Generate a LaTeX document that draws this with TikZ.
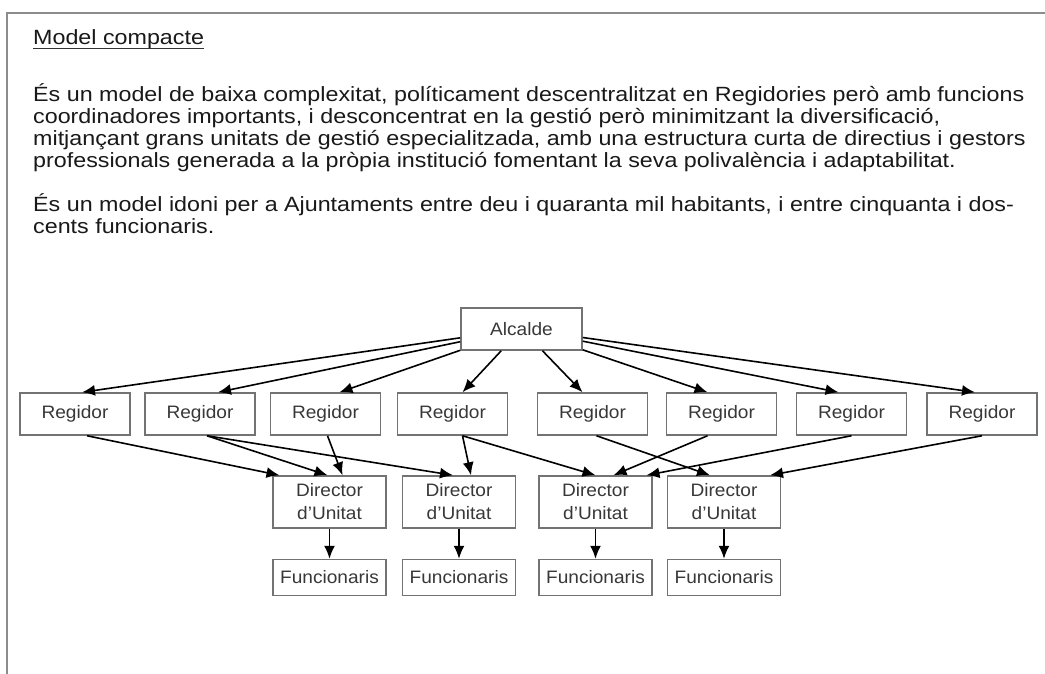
\documentclass[tikz,border=0pt]{standalone}
\usepackage{fontspec}
\setmainfont{Liberation Sans}[FakeStretch=1.06]
\newfontfamily\textfamily{Liberation Sans}[FakeStretch=1.13]
\usetikzlibrary{arrows.meta, positioning}

\begin{document}
\begin{tikzpicture}[x=1pt, y=-1pt]
        \tikzstyle{marc} = [draw=black!45, line width=2.2pt]
        \tikzstyle{linia} = [anchor=base west, inner sep=0pt, text=black!90, font=\textfamily\fontsize{20.6}{22}\selectfont]
        \tikzstyle{caixa} = [rectangle, draw=black!55, line width=1.5pt, text=black!78, inner sep=0pt, align=center, font=\fontsize{18}{23}\selectfont]
        \tikzstyle{alcalde} = [caixa, minimum width=121pt, minimum height=42pt]
        \tikzstyle{regidor} = [caixa, minimum width=110pt, minimum height=42pt]
        \tikzstyle{director} = [caixa, minimum width=113pt, minimum height=52pt]
        \tikzstyle{funcionari} = [caixa, minimum width=113pt, minimum height=36pt]
        \tikzstyle{arrow} = [line width=1.6pt, -{Latex[length=13pt, width=11pt]}]

        \useasboundingbox (0,0) rectangle (1045,673);
        \fill [white] (0,0) rectangle (1045,673);
        \draw [marc] (7,680) -- (7,13) -- (1050,13);

        % text
        \node (titol) [linia] at (33,44.5) {Model compacte};
        \draw [line width=1pt, black!80] ([yshift=-3.5pt]titol.base west) -- ([yshift=-3.5pt]titol.base east);

        \node (p1a) [linia] at (33,101.5) {És un model de baixa complexitat, políticament descentralitzat en Regidories però amb funcions};
        \node (p1b) [linia] at ([yshift=-22pt]p1a.base west) {coordinadores importants, i desconcentrat en la gestió però minimitzant la diversificació,};
        \node (p1c) [linia] at ([yshift=-22pt]p1b.base west) {mitjançant grans unitats de gestió especialitzada, amb una estructura curta de directius i gestors};
        \node (p1d) [linia] at ([yshift=-22pt]p1c.base west) {professionals generada a la pròpia institució fomentant la seva polivalència i adaptabilitat.};
        \node (p2a) [linia] at (33,211) {És un model idoni per a Ajuntaments entre deu i quaranta mil habitants, i entre cinquanta i dos-};
        \node (p2b) [linia] at ([yshift=-22pt]p2a.base west) {cents funcionaris.};

        % organigrama
        \node (alc) [alcalde] at (521.5,329) {Alcalde};

        \node (reg1) [regidor] at (75,414) {Regidor};
        \node (reg2) [regidor] at (200,414) {Regidor};
        \node (reg3) [regidor] at (325.5,414) {Regidor};
        \node (reg4) [regidor] at (452.5,414) {Regidor};
        \node (reg5) [regidor] at (592.5,414) {Regidor};
        \node (reg6) [regidor] at (721.5,414) {Regidor};
        \node (reg7) [regidor] at (851.5,414) {Regidor};
        \node (reg8) [regidor] at (982,414) {Regidor};

        \node (dir1) [director] at (329.5,502) {Director\\d'Unitat};
        \node (dir2) [director] at (459,502) {Director\\d'Unitat};
        \node (dir3) [director] at (595.5,502) {Director\\d'Unitat};
        \node (dir4) [director] at (724,502) {Director\\d'Unitat};

        \node (fun1) [funcionari, below=30pt of dir1] {Funcionaris};
        \node (fun2) [funcionari, below=30pt of dir2] {Funcionaris};
        \node (fun3) [funcionari, below=30pt of dir3] {Funcionaris};
        \node (fun4) [funcionari, below=30pt of dir4] {Funcionaris};

        \draw [arrow] (alc) -- ([xshift=7pt]reg1.north);
        \draw [arrow] (alc) -- ([xshift=18pt]reg2.north);
        \draw [arrow] (alc) -- ([xshift=14pt]reg3.north);
        \draw [arrow] (alc) -- ([xshift=10pt]reg4.north);
        \draw [arrow] (alc) -- ([xshift=-10pt]reg5.north);
        \draw [arrow] (alc) -- ([xshift=-14pt]reg6.north);
        \draw [arrow] (alc) -- ([xshift=-13pt]reg7.north);
        \draw [arrow] (alc) -- ([xshift=-7pt]reg8.north);

        \draw [arrow] ([xshift=12pt]reg1.south) -- ([xshift=-50pt]dir1.north);
        \draw [arrow] ([xshift=7pt]reg2.south) -- ([xshift=-2pt]dir1.north);
        \draw [arrow] ([xshift=7pt]reg2.south) -- ([xshift=-6pt]dir2.north);
        \draw [arrow] ([xshift=2pt]reg3.south) -- ([xshift=13pt]dir1.north);
        \draw [arrow] ([xshift=10pt]reg4.south) -- ([xshift=12pt]dir2.north);
        \draw [arrow] ([xshift=10pt]reg4.south) -- (dir3.north);
        \draw [arrow] ([xshift=4pt]reg5.south) -- ([xshift=-14pt]dir4.north);
        \draw [arrow] ([xshift=-14pt]reg6.south) -- ([xshift=18pt]dir3.north);
        \draw [arrow] (reg7.south) -- ([xshift=51pt]dir3.north);
        \draw [arrow] (reg8.south) -- ([xshift=46pt]dir4.north);

        \draw [arrow] (dir1) -- (fun1);
        \draw [arrow] (dir2) -- (fun2);
        \draw [arrow] (dir3) -- (fun3);
        \draw [arrow] (dir4) -- (fun4);
    \end{tikzpicture}
\end{document}
